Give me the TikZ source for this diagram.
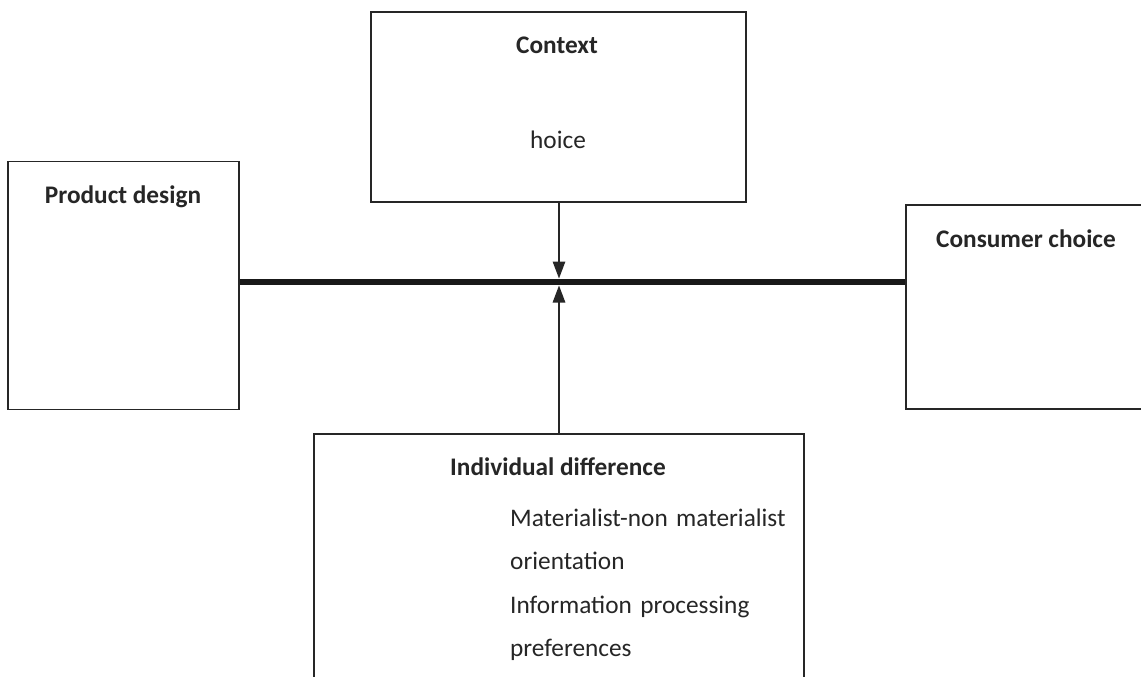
\documentclass[tikz,border=0pt]{standalone}
\usepackage{fontspec}
\setmainfont{Carlito}
\usetikzlibrary{arrows.meta}
\begin{document}
\begin{tikzpicture}[x=1pt,y=-1pt,
  box/.style={draw=black!85,line width=1.6pt,rectangle,inner sep=0pt,fill=none},
  lbl/.style={inner sep=0pt,anchor=base,font=\fontsize{25.3}{30}\selectfont\bfseries,text=black!85},
  txt/.style={inner sep=0pt,font=\fontsize{25.3}{43.5}\selectfont,text=black!85},
  bar/.style={line width=6.5pt,draw=black!90},
  arr/.style={line width=1.4pt,draw=black!85,-{Triangle[length=17pt,width=12.5pt]}}]
\useasboundingbox (0,0) rectangle (1141,677);
\clip (0,0) rectangle (1141,677);
\fill[white] (0,0) rectangle (1141,677);
% boxes
\node[box,minimum width=375pt,minimum height=190pt] (ctx) at (558.5,107) {};
\node[box,minimum width=231pt,minimum height=248pt] (pd) at (123.5,285.5) {};
\node[box,minimum width=250pt,minimum height=204pt] (cc) at (1031,307) {};
\node[box,minimum width=490pt,minimum height=260pt] (ind) at (559,564) {};
% texts
\node[lbl] (ctxt) at (557,54) {Context};
\node[txt,anchor=base] (hoice) at (558,148) {hoice};
\node[lbl] (pdt) at (123,203) {Product design};
\node[lbl] (cct) at (1026,247) {Consumer choice};
\node[lbl,anchor=base west] (indt) at (450,475) {Individual difference};
\node[txt,anchor=base west,text width=320pt,align=left] (list) at (510,526)
  {Materialist-non materialist\\orientation\\Information processing\\preferences};
% connectors
\coordinate (j) at (559,282);
\draw[bar] (pd.east |- j) -- (cc.west |- j);
\draw[arr] (ctx.south -| j) -- ([yshift=3.5pt]j);
\draw[arr] (ind.north -| j) -- ([yshift=-3.5pt]j);
\end{tikzpicture}
\end{document}
